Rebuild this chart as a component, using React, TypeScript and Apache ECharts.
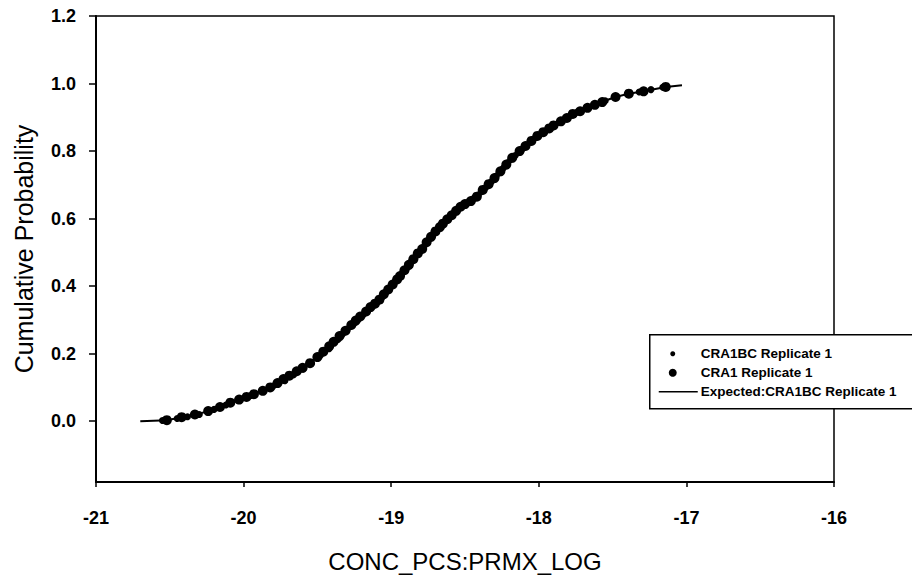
import React, { useEffect, useRef } from "react";
import * as echarts from "echarts";

const xTicks = [-21, -20, -19, -18, -17, -16];
const yTicks = [0, 0.2, 0.4, 0.6, 0.8, 1.0, 1.2];

const seriesNames = [
  "CRA1BC Replicate 1",
  "CRA1 Replicate 1",
  "Expected:CRA1BC Replicate 1",
];

// small markers
const cra1bcPoints: [number, number][] = [
  [-20.55, 0.002], [-20.45, 0.008], [-20.38, 0.013], [-20.3, 0.02], [-20.2, 0.035],
  [-20.12, 0.048], [-20.04, 0.062], [-19.95, 0.076], [-19.88, 0.088], [-19.8, 0.104],
  [-19.72, 0.12], [-19.66, 0.138], [-19.6, 0.155], [-19.54, 0.172], [-19.48, 0.195],
  [-19.42, 0.215], [-19.36, 0.242], [-19.33, 0.258], [-19.3, 0.268], [-19.28, 0.28],
  [-19.25, 0.29], [-19.22, 0.303], [-19.19, 0.315], [-19.16, 0.327], [-19.14, 0.335],
  [-19.12, 0.343], [-19.09, 0.355], [-19.06, 0.368], [-19.04, 0.38], [-19.01, 0.395],
  [-18.99, 0.405], [-18.97, 0.415], [-18.94, 0.43], [-18.92, 0.442], [-18.89, 0.455],
  [-18.87, 0.47], [-18.84, 0.485], [-18.81, 0.5], [-18.79, 0.51], [-18.77, 0.523],
  [-18.74, 0.54], [-18.72, 0.552], [-18.69, 0.565], [-18.67, 0.578], [-18.64, 0.59],
  [-18.62, 0.6], [-18.59, 0.61], [-18.57, 0.618], [-18.54, 0.63], [-18.51, 0.64],
  [-18.49, 0.645], [-18.47, 0.65], [-18.44, 0.66], [-18.41, 0.67], [-18.39, 0.68],
  [-18.36, 0.692], [-18.34, 0.7], [-18.32, 0.71], [-18.29, 0.725], [-18.27, 0.735],
  [-18.24, 0.75], [-18.21, 0.765], [-18.19, 0.775], [-18.16, 0.787], [-18.14, 0.795],
  [-18.11, 0.807], [-18.09, 0.815], [-18.06, 0.826], [-18.04, 0.835], [-18.02, 0.84],
  [-17.98, 0.852], [-17.92, 0.868], [-17.86, 0.885], [-17.8, 0.9], [-17.74, 0.915],
  [-17.68, 0.926], [-17.62, 0.937], [-17.55, 0.949], [-17.48, 0.96], [-17.4, 0.969],
  [-17.32, 0.975], [-17.24, 0.982], [-17.16, 0.989],
];

// large markers
const cra1Points: [number, number][] = [
  [-20.52, 0.003], [-20.42, 0.012], [-20.33, 0.02], [-20.24, 0.03], [-20.16, 0.042],
  [-20.09, 0.055], [-20.03, 0.064], [-19.98, 0.072], [-19.93, 0.08], [-19.87, 0.09],
  [-19.82, 0.1], [-19.77, 0.113], [-19.73, 0.125], [-19.69, 0.135], [-19.64, 0.148],
  [-19.6, 0.158], [-19.55, 0.172], [-19.5, 0.19], [-19.46, 0.206], [-19.42, 0.222],
  [-19.39, 0.235], [-19.35, 0.252], [-19.31, 0.268], [-19.27, 0.285], [-19.24, 0.298],
  [-19.21, 0.31], [-19.17, 0.325], [-19.14, 0.338], [-19.11, 0.348], [-19.08, 0.36],
  [-19.05, 0.376], [-19.02, 0.39], [-18.99, 0.405], [-18.96, 0.42], [-18.94, 0.43],
  [-18.91, 0.447], [-18.88, 0.463], [-18.85, 0.48], [-18.82, 0.497], [-18.79, 0.51],
  [-18.76, 0.53], [-18.73, 0.546], [-18.7, 0.562], [-18.67, 0.575], [-18.65, 0.585],
  [-18.62, 0.598], [-18.59, 0.61], [-18.56, 0.623], [-18.53, 0.635], [-18.5, 0.643],
  [-18.46, 0.652], [-18.42, 0.665], [-18.38, 0.685], [-18.34, 0.702], [-18.3, 0.72],
  [-18.26, 0.74], [-18.22, 0.76], [-18.18, 0.78], [-18.13, 0.8], [-18.09, 0.815],
  [-18.05, 0.83], [-18.01, 0.845], [-17.97, 0.856], [-17.93, 0.867], [-17.9, 0.876],
  [-17.85, 0.888], [-17.81, 0.898], [-17.77, 0.91], [-17.72, 0.918], [-17.67, 0.928],
  [-17.62, 0.937], [-17.57, 0.945], [-17.48, 0.96], [-17.39, 0.97], [-17.29, 0.977],
  [-17.14, 0.99],
];

// expected curve
const expectedPoints: [number, number][] = [
  [-20.7, 0.0], [-20.52, 0.003], [-20.42, 0.012], [-20.35, 0.016], [-20.24, 0.03],
  [-20.09, 0.055], [-19.98, 0.072], [-19.82, 0.1], [-19.73, 0.125], [-19.64, 0.148],
  [-19.5, 0.19], [-19.39, 0.235], [-19.21, 0.31], [-19.08, 0.36], [-18.94, 0.43],
  [-18.78, 0.515], [-18.65, 0.585], [-18.53, 0.635], [-18.42, 0.665], [-18.3, 0.72],
  [-18.13, 0.8], [-18.01, 0.845], [-17.9, 0.876], [-17.77, 0.91], [-17.67, 0.928],
  [-17.59, 0.943], [-17.48, 0.96], [-17.4, 0.969], [-17.29, 0.977], [-17.14, 0.99],
  [-17.03, 0.995],
];

const FONT = "Liberation Sans, Arial, sans-serif";

export default function App() {
  const ref = useRef<HTMLDivElement>(null);
  useEffect(() => {
    if (!ref.current) return;
    const chart = echarts.init(ref.current, null, { renderer: "svg" });
    const lx = 649;
    const ly = 334;
    chart.setOption({
      animation: false,
      backgroundColor: "#fff",
      grid: {
        left: 96,
        right: 78,
        top: 16,
        bottom: 89,
        show: true,
        borderColor: "#000",
        borderWidth: 1.5,
        backgroundColor: "transparent",
      },
      xAxis: {
        type: "value",
        min: -21,
        max: -16,
        interval: 1,
        name: "CONC_PCS:PRMX_LOG",
        nameLocation: "middle",
        nameGap: 67,
        nameTextStyle: { color: "#000", fontFamily: FONT, fontSize: 24 },
        axisLine: { show: true, onZero: false, lineStyle: { color: "#000", width: 2 } },
        axisTick: { show: true, inside: false, length: 5, lineStyle: { color: "#000", width: 1.5 } },
        splitLine: { show: false },
        axisLabel: {
          color: "#000",
          fontFamily: FONT,
          fontWeight: "bold",
          fontSize: 18,
          margin: 27,
          formatter: (v: number) => (xTicks.includes(v) ? String(v) : ""),
        },
      },
      yAxis: {
        type: "value",
        min: -0.18,
        max: 1.2,
        name: "Cumulative Probability",
        nameLocation: "middle",
        nameGap: 60,
        nameTextStyle: { color: "#000", fontFamily: FONT, fontSize: 25 },
        axisLine: { show: true, onZero: false, lineStyle: { color: "#000", width: 2 } },
        axisTick: {
          show: true,
          inside: false,
          length: 7,
          customValues: yTicks,
          lineStyle: { color: "#000", width: 1.5 },
        },
        splitLine: { show: false },
        axisLabel: {
          color: "#000",
          fontFamily: FONT,
          fontWeight: "bold",
          fontSize: 18,
          margin: 20,
          customValues: yTicks,
          formatter: (v: number) => v.toFixed(1),
        },
      },
      series: [
        {
          name: seriesNames[2],
          type: "line",
          data: expectedPoints,
          showSymbol: false,
          symbol: "none",
          lineStyle: { color: "#000", width: 2 },
          z: 2,
        },
        {
          name: seriesNames[1],
          type: "scatter",
          data: cra1Points,
          symbol: "circle",
          symbolSize: 10,
          itemStyle: { color: "#000", opacity: 1 },
          z: 3,
        },
        {
          name: seriesNames[0],
          type: "scatter",
          data: cra1bcPoints,
          symbol: "circle",
          symbolSize: 7,
          itemStyle: { color: "#000", opacity: 1 },
          z: 4,
        },
      ],
      graphic: [
        {
          type: "group",
          left: lx,
          top: ly,
          z: 100,
          children: [
            {
              type: "rect",
              shape: { x: 0, y: 0, width: 300, height: 74 },
              style: { fill: "#fff", stroke: "#000", lineWidth: 1.5 },
            },
            { type: "circle", shape: { cx: 23, cy: 19, r: 2.5 }, style: { fill: "#000" } },
            {
              type: "text",
              x: 51,
              y: 19,
              style: {
                text: seriesNames[0],
                fontFamily: FONT,
                fontWeight: "bold",
                fontSize: 13.5,
                fill: "#000",
                verticalAlign: "middle",
              },
            },
            { type: "circle", shape: { cx: 23, cy: 38, r: 4 }, style: { fill: "#000" } },
            {
              type: "text",
              x: 51,
              y: 38,
              style: {
                text: seriesNames[1],
                fontFamily: FONT,
                fontWeight: "bold",
                fontSize: 13.5,
                fill: "#000",
                verticalAlign: "middle",
              },
            },
            {
              type: "line",
              shape: { x1: 9, y1: 57, x2: 48, y2: 57 },
              style: { stroke: "#000", lineWidth: 1.5 },
            },
            {
              type: "text",
              x: 51,
              y: 57,
              style: {
                text: seriesNames[2],
                fontFamily: FONT,
                fontWeight: "bold",
                fontSize: 13.5,
                fill: "#000",
                verticalAlign: "middle",
              },
            },
          ],
        },
      ],
    });
    return () => chart.dispose();
  }, []);
  return (
    <div
      ref={ref}
      style={{ position: "absolute", left: 0, top: 0, width: 912, height: 578 }}
    />
  );
}
